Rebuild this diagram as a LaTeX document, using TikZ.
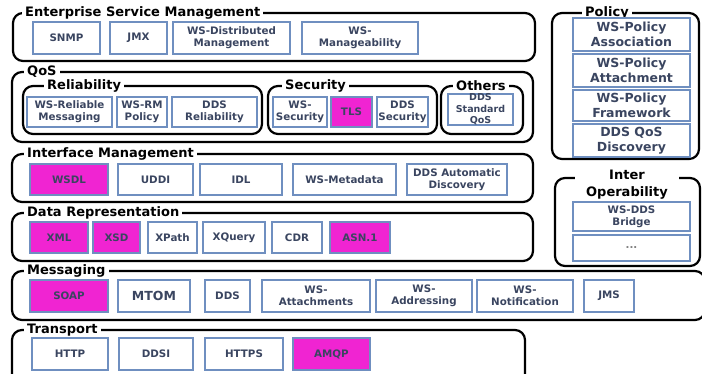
\documentclass[tikz,border=0pt]{standalone}
\usepackage{fontspec}
\setmainfont{DejaVu Sans}
\definecolor{boxblue}{HTML}{6F8FC0}
\definecolor{mag}{HTML}{F024D2}
\definecolor{boxtext}{HTML}{3A4560}
\newcommand\bxat[7][]{\node[bx,#1,minimum width={(#5-#3)*1pt},minimum height={(#6-#4)*1pt}] (#2) at ({(#3+#5)/2},{(#4+#6)/2}) {#7};}
\newcommand\grpat[5]{\node[grp,minimum width={(#4-#2)*1pt},minimum height={(#5-#3)*1pt}] (#1) at ({(#2+#4)/2},{(#3+#5)/2}) {};}
\tikzset{
 bx/.style={draw=boxblue,line width=2.2pt,fill=white,text=boxtext,font=\bfseries\fontsize{10.3}{12}\selectfont,align=center,inner sep=0pt},
 hot/.style={fill=mag},
 big/.style={font=\bfseries\fontsize{12.5}{14.5}\selectfont},
 tiny/.style={font=\bfseries\fontsize{9.5}{11.5}\selectfont},
 grp/.style={draw=black,line width=2.2pt,rounded corners=10pt,inner sep=0pt},
 gtitle/.style={fill=white,text=black,font=\bfseries\fontsize{13}{15}\selectfont,inner xsep=3pt,inner ysep=0pt,anchor=west},
}
\begin{document}
\begin{tikzpicture}[x=1pt,y=-1pt]
\clip (0,0) rectangle (702,374);
\fill[white] (0,0) rectangle (702,374);
% group frames
\grpat{esm}{13}{13}{535}{61}
\grpat{qos}{12}{72}{533}{142}
\grpat{rel}{23}{86}{262}{134}
\grpat{sec}{268}{86}{437}{134}
\grpat{oth}{441}{86}{523}{134}
\grpat{ifm}{12}{154}{533}{202}
\grpat{drp}{12}{213}{533}{261}
\grpat{msg}{12}{271}{705}{320}
\grpat{trn}{12}{330}{525}{386}
\grpat{pol}{552}{13}{699}{159}
\grpat{iop}{555}{178}{700}{266}
% group titles
\node[gtitle] (tesm) at (22,13) {Enterprise Service Management};
\node[gtitle] (tqos) at (24,72) {QoS};
\node[gtitle] (trel) at (44,86) {Reliability};
\node[gtitle] (tsec) at (282,86) {Security};
\node[gtitle] (toth) at (453,86) {Others};
\node[gtitle] (tifm) at (24,154) {Interface Management};
\node[gtitle] (tdrp) at (24,213) {Data Representation};
\node[gtitle] (tmsg) at (24,271) {Messaging};
\node[gtitle] (ttrn) at (24,330) {Transport};
\node[gtitle] (tpol) at (582,13) {Policy};
\node[gtitle,anchor=center,align=center,minimum width=104pt,inner ysep=1pt,font=\bfseries\fontsize{13}{17}\selectfont] (tiop) at (627,185) {Inter\\Operability};
% ESM
\bxat{snmp}{33}{22}{100}{54}{SNMP}
\bxat{jmx}{110}{22}{167}{54}{JMX}
\bxat{wsdm}{173}{22}{290}{54}{WS-Distributed\\Management}
\bxat{wsman}{302}{22}{418}{54}{WS-\\Manageability}
% QoS
\bxat{wsrm}{27}{97}{112}{127}{WS-Reliable\\Messaging}
\bxat{wsrmp}{117}{97}{167}{127}{WS-RM\\Policy}
\bxat{ddsrel}{172}{97}{257}{127}{DDS\\Reliability}
\bxat{wssec}{273}{97}{327}{127}{WS-\\Security}
\bxat[hot]{tls}{331}{97}{372}{127}{TLS}
\bxat{ddssec}{377}{97}{428}{127}{DDS\\Security}
\bxat[tiny]{ddsq}{448}{94}{513}{125}{DDS\\Standard\\QoS}
% Interface
\bxat[hot]{wsdl}{30}{164}{108}{195}{WSDL}
\bxat{uddi}{118}{164}{193}{195}{UDDI}
\bxat{idl}{200}{164}{282}{195}{IDL}
\bxat{wsmeta}{293}{164}{396}{195}{WS-Metadata}
\bxat{ddsad}{407}{164}{507}{195}{DDS Automatic\\Discovery}
% Data representation
\bxat[hot]{xml}{30}{222}{88}{253}{XML}
\bxat[hot]{xsd}{93}{222}{140}{253}{XSD}
\bxat{xpath}{148}{222}{197}{253}{XPath}
\bxat{xquery}{203}{222}{265}{253}{XQuery}
\bxat{cdr}{272}{222}{322}{253}{CDR}
\bxat[hot]{asn}{330}{222}{390}{253}{ASN.1}
% Messaging
\bxat[hot]{soap}{30}{280}{108}{312}{SOAP}
\bxat[big]{mtom}{118}{280}{190}{312}{MTOM}
\bxat{dds}{205}{280}{250}{312}{DDS}
\bxat{wsatt}{262}{280}{370}{312}{WS-\\Attachments}
\bxat{wsadr}{376}{280}{472}{312}{WS-\\Addressing}
\bxat{wsnot}{477}{280}{573}{312}{WS-\\Notification}
\bxat{jms}{584}{280}{634}{312}{JMS}
% Transport
\bxat{http}{32}{338}{108}{370}{HTTP}
\bxat{ddsi}{119}{338}{193}{370}{DDSI}
\bxat{https}{205}{338}{283}{370}{HTTPS}
\bxat[hot]{amqp}{293}{338}{370}{370}{AMQP}
% Policy
\bxat[big]{pa}{573}{18}{690}{51}{WS-Policy\\Association}
\bxat[big]{pat}{573}{54}{690}{87}{WS-Policy\\Attachment}
\bxat[big]{pf}{573}{90}{690}{121}{WS-Policy\\Framework}
\bxat[big]{pd}{573}{124}{690}{157}{DDS QoS\\Discovery}
% Interoperability
\bxat{wsdds}{573}{202}{690}{231}{WS-DDS\\Bridge}
\bxat[text=gray]{etc}{573}{235}{690}{261}{...}
\end{tikzpicture}
\end{document}
